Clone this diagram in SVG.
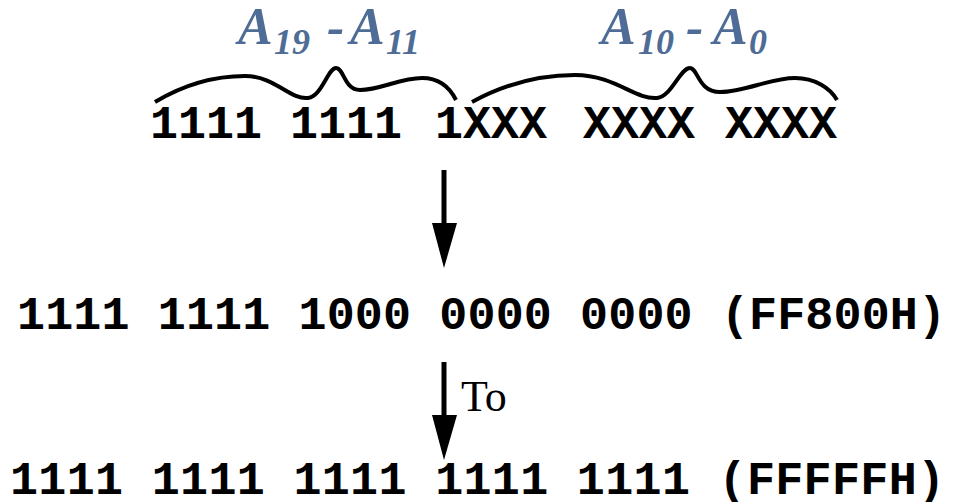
<svg xmlns="http://www.w3.org/2000/svg" width="955" height="502" viewBox="0 0 955 502">
  <defs>
    <style>
      .bits { font-family: "Liberation Mono", "Courier New", monospace; font-weight: bold; font-size: 46.7px; fill: #000; }
      .addr { font-family: "Liberation Serif", "Times New Roman", serif; font-style: italic; font-weight: bold; font-size: 52px; fill: #4E6C95; }
      .sub { font-size: 36px; }
      .brace { fill: none; stroke: #000; stroke-width: 4; stroke-linecap: butt; stroke-linejoin: round; }
      .shaft { stroke: #000; stroke-width: 5; }
      .note { font-family: "Liberation Serif", "Times New Roman", serif; font-size: 44px; fill: #000; }
    </style>
  </defs>

  <!-- address-line labels -->
  <g id="label-high">
    <text class="addr" x="238" y="44">A<tspan class="sub" x="274" y="54">19</tspan><tspan x="327" y="44">-</tspan><tspan x="350" y="44">A</tspan><tspan class="sub" x="386" y="54">11</tspan></text>
  </g>
  <g id="label-low">
    <text class="addr" x="601" y="44">A<tspan class="sub" x="638" y="54">10</tspan><tspan x="686" y="44">-</tspan><tspan x="713" y="44">A</tspan><tspan class="sub" x="749" y="54">0</tspan></text>
  </g>

  <!-- braces over the bit groups -->
  <g id="brace-high">
    <path class="brace" d="M155,102 C185,84 215,76 245,76 C275,76 290,100 308,98 C322,96 328,68 336,68 C344,68 344,90 360,90 C380,90 400,78 422,78 C440,78 450,88 456,100"/>
  </g>
  <g id="brace-low">
    <path class="brace" d="M472,102 C505,84 540,75 575,75 C615,75 635,100 657,98 C672,96 680,68 690,68 C698,68 698,92 720,92 C745,92 770,78 795,78 C815,78 830,88 837,100"/>
  </g>

  <!-- bit patterns -->
  <g id="pattern">
    <text class="bits" y="138"><tspan x="150">1111</tspan><tspan x="290">1111</tspan><tspan x="435">1XXX</tspan><tspan x="583">XXXX</tspan><tspan x="725">XXXX</tspan></text>
  </g>
  <g id="start-address">
    <text class="bits" x="17" y="329" textLength="929" lengthAdjust="spacing">1111 1111 1000 0000 0000 (FF800H)</text>
  </g>
  <g id="end-address">
    <text class="bits" x="10" y="494" textLength="935" lengthAdjust="spacing">1111 1111 1111 1111 1111 (FFFFFH)</text>
  </g>

  <!-- connectors -->
  <g id="connectors">
    <line class="shaft" x1="444" y1="170" x2="444" y2="226"/>
    <polygon points="432,223 457,223 444,268"/>
    <line class="shaft" x1="444" y1="362" x2="444" y2="418"/>
    <polygon points="432,415 457,415 444,460"/>
    <text class="note" x="461" y="411">To</text>
  </g>
</svg>
